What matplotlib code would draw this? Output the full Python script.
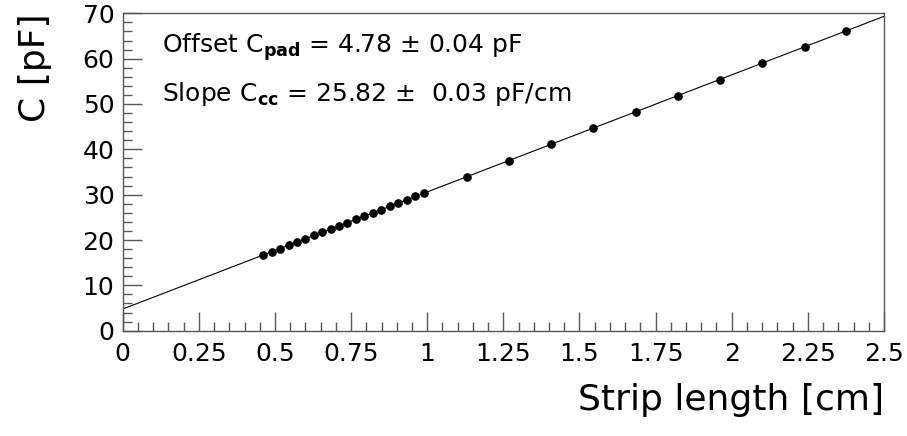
import matplotlib
matplotlib.use("Agg")
import matplotlib.pyplot as plt
from matplotlib.ticker import MultipleLocator
import numpy as np

plt.rcParams["font.family"] = ["DejaVu Sans"]
plt.rcParams["mathtext.fontset"] = "dejavusans"

# measured strip lengths [cm] and capacitances [pF]
strip_length = [0.461, 0.490, 0.517, 0.545, 0.573, 0.600, 0.628, 0.655, 0.683, 0.711,
                0.738, 0.766, 0.794, 0.821, 0.849, 0.877, 0.904, 0.932, 0.959, 0.988,
                1.130, 1.267, 1.407, 1.546, 1.685, 1.822, 1.962, 2.100, 2.240, 2.375]
capacitance = [16.7, 17.4, 18.1, 18.9, 19.6, 20.3, 21.0, 21.7, 22.4, 23.1,
               23.8, 24.6, 25.3, 26.0, 26.7, 27.4, 28.1, 28.8, 29.6, 30.3,
               33.9, 37.5, 41.1, 44.7, 48.3, 51.8, 55.4, 59.0, 62.6, 66.0]

# linear fit result
fit_offset = 4.78
fit_offset_err = 0.04
fit_slope = 25.82
fit_slope_err = 0.03

GREY = "#555555"

fig = plt.figure(figsize=(9.07, 4.36), dpi=100, facecolor="white")
ax = fig.add_axes([0.1353, 0.2415, 0.8393, 0.728])

x_fit = np.array([0.0, 2.5])
ax.plot(x_fit, fit_offset + fit_slope * x_fit, "-", color="black", linewidth=0.8)
ax.plot(strip_length, capacitance, "o", color="black", markersize=5.2)

ax.set_xlim(0, 2.5)
ax.set_ylim(0, 70)
ax.xaxis.set_major_locator(MultipleLocator(0.25))
ax.xaxis.set_minor_locator(MultipleLocator(0.05))
ax.yaxis.set_major_locator(MultipleLocator(10))
ax.yaxis.set_minor_locator(MultipleLocator(2))
ax.xaxis.set_major_formatter(lambda v, p: f"{v:g}")

ax.tick_params(which="both", direction="in", color=GREY, width=1,
               top=False, right=False, labelsize=18, labelcolor="black")
ax.tick_params(which="major", length=13.5)
ax.tick_params(which="minor", length=6.8)
ax.tick_params(axis="x", pad=8)
ax.tick_params(axis="y", pad=6)
for sp in ax.spines.values():
    sp.set_color(GREY)
    sp.set_linewidth(1)

ax.set_xlabel("Strip length [cm]", fontsize=26, loc="right")
ax.xaxis.set_label_coords(1.0, -0.165)
ax.set_ylabel("C [pF]", fontsize=26, loc="top")
ax.yaxis.set_label_coords(-0.093, 1.0)

ax.text(0.052, 0.892,
        r"Offset C$_{\mathbf{pad}}$ = %.2f $\pm$ %.2f pF" % (fit_offset, fit_offset_err),
        transform=ax.transAxes, fontsize=18, va="center", ha="left")
ax.text(0.052, 0.747,
        r"Slope C$_{\mathbf{cc}}$ = %.2f $\pm$  %.2f pF/cm" % (fit_slope, fit_slope_err),
        transform=ax.transAxes, fontsize=18, va="center", ha="left")

fig.savefig("out.png", dpi=100, facecolor="white")
